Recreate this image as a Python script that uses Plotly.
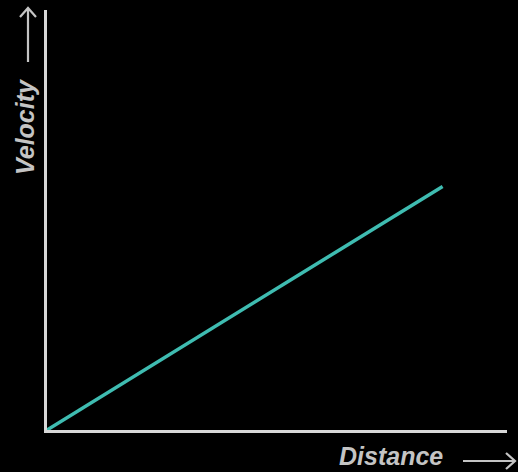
import plotly.graph_objects as go

# Data
distance = [0, 8.6]
velocity = [0, 5.8]
x_label = "Distance"
y_label = "Velocity"

W, H = 518, 472
ML, MR, MT, MB = 47, 11, 10, 42
pw, ph = W - ML - MR, H - MT - MB

def px(x):
    return (x - ML) / pw

def py(y):
    return (H - MB - y) / ph

axis_col = "#d8d8d8"
label_col = "#c4c4c4"
line_col = "#3fbcb1"

fig = go.Figure()
fig.add_trace(go.Scatter(x=distance, y=velocity, mode="lines",
                         line=dict(color=line_col, width=3.5),
                         hoverinfo="skip", showlegend=False))

fig.update_xaxes(range=[0, 10], showgrid=False, zeroline=False, showticklabels=False,
                 ticks="", showline=True, linecolor=axis_col, linewidth=3)
fig.update_yaxes(range=[0, 10], showgrid=False, zeroline=False, showticklabels=False,
                 ticks="", showline=True, linecolor=axis_col, linewidth=3)

font = dict(family="Liberation Sans, Arial, sans-serif", size=25, color=label_col)
fig.add_annotation(text="<b><i>" + x_label + "</i></b>", xref="paper", yref="paper",
                   x=px(391), y=py(456), showarrow=False, font=font,
                   xanchor="center", yanchor="middle")
fig.add_annotation(text="<b><i>" + y_label + "</i></b>", xref="paper", yref="paper",
                   x=px(25), y=py(127), showarrow=False, font=font, textangle=-90,
                   xanchor="center", yanchor="middle")

arrow_line = dict(color=label_col, width=2.2)
# horizontal arrow
fig.add_shape(type="path", xref="paper", yref="paper",
              path=f"M {px(463)} {py(461)} L {px(515)} {py(461)} "
                   f"M {px(506)} {py(453)} L {px(515)} {py(461)} L {px(506)} {py(469)}",
              line=arrow_line)
# vertical arrow
fig.add_shape(type="path", xref="paper", yref="paper",
              path=f"M {px(28)} {py(62)} L {px(28)} {py(8)} "
                   f"M {px(20)} {py(17)} L {px(28)} {py(8)} L {px(36)} {py(17)}",
              line=arrow_line)

fig.update_layout(width=W, height=H, margin=dict(l=ML, r=MR, t=MT, b=MB),
                  paper_bgcolor="black", plot_bgcolor="black", showlegend=False)

fig.write_html("out.html", config={"displayModeBar": False},
               post_script="document.body.style.margin='0';document.body.style.background='black';")
